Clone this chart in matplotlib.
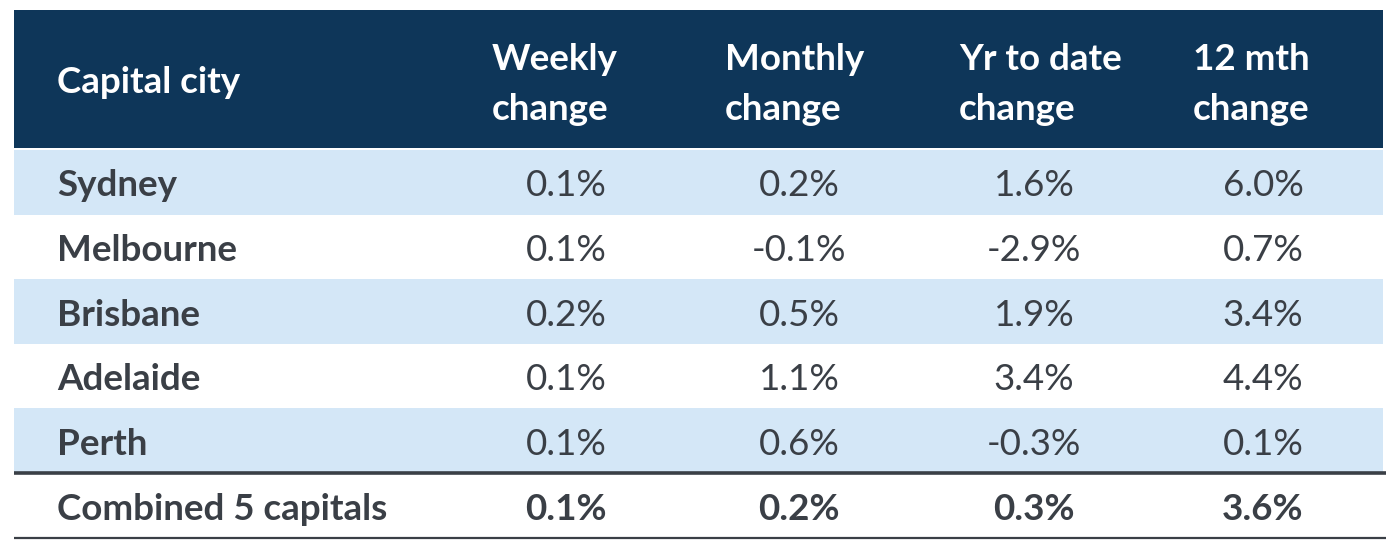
import matplotlib.pyplot as plt
from matplotlib.patches import Rectangle

# table contents
headers = ["Capital city", "Weekly\nchange", "Monthly\nchange", "Yr to date\nchange", "12 mth\nchange"]
cities = ["Sydney", "Melbourne", "Brisbane", "Adelaide", "Perth"]
weekly = [0.1, 0.1, 0.2, 0.1, 0.1]
monthly = [0.2, -0.1, 0.5, 1.1, 0.6]
ytd = [1.6, -2.9, 1.9, 3.4, -0.3]
twelve_mth = [6.0, 0.7, 3.4, 4.4, 0.1]
total_label = "Combined 5 capitals"
total_vals = [0.1, 0.2, 0.3, 3.6]

NAVY = "#0e3659"
LIGHT = "#d4e7f7"
TEXT = "#3a3f46"
FONT = "Lato"

fig = plt.figure(figsize=(14, 5.59), dpi=100)
ax = fig.add_axes([0, 0, 1, 1])
ax.set_xlim(0, 1400)
ax.set_ylim(559, 0)
ax.axis("off")

left, right = 14, 1383
head_top, head_bot = 10, 148
row_h = 64.6
first_row = 150
name_x = 57
head_x = [492, 725, 959, 1193]
val_cx = [566, 799, 1034, 1263]
fs = 26.5

# header
ax.add_patch(Rectangle((left, head_top), right - left, head_bot - head_top, color=NAVY, lw=0))
ax.text(name_x, 93, headers[0], color="white", fontsize=fs, fontweight="bold",
        family=FONT, va="baseline", ha="left")
for hx, h in zip(head_x, headers[1:]):
    l1, l2 = h.split("\n")
    ax.text(hx, 70, l1, color="white", fontsize=fs, fontweight="bold", family=FONT, va="baseline")
    ax.text(hx, 120, l2, color="white", fontsize=fs, fontweight="bold", family=FONT, va="baseline")

# body rows
cols = [weekly, monthly, ytd, twelve_mth]
for i, city in enumerate(cities):
    y0 = first_row + i * row_h
    if i % 2 == 0:
        ax.add_patch(Rectangle((left, y0), right - left, row_h, color=LIGHT, lw=0))
    yb = y0 + row_h / 2 + 14
    ax.text(name_x, yb, city, color=TEXT, fontsize=fs, fontweight="bold", family=FONT, va="baseline")
    for cx, col in zip(val_cx, cols):
        ax.text(cx, yb, f"{col[i]:.1f}%", color=TEXT, fontsize=fs, family=FONT,
                va="baseline", ha="center")

# total row
y_line = first_row + len(cities) * row_h
ax.plot([left, 1386], [y_line, y_line], color="#3a3f46", lw=2.6, solid_capstyle="butt")
yb = y_line + row_h / 2 + 15
ax.text(name_x, yb, total_label, color=TEXT, fontsize=fs, fontweight="bold", family=FONT, va="baseline")
for cx, v in zip(val_cx, total_vals):
    ax.text(cx, yb, f"{v:.1f}%", color=TEXT, fontsize=fs, fontweight="bold", family=FONT,
            va="baseline", ha="center")
ax.plot([left, 1386], [538, 538], color="#3a3f46", lw=1.6, solid_capstyle="butt")

fig.savefig("out.png", dpi=100)
